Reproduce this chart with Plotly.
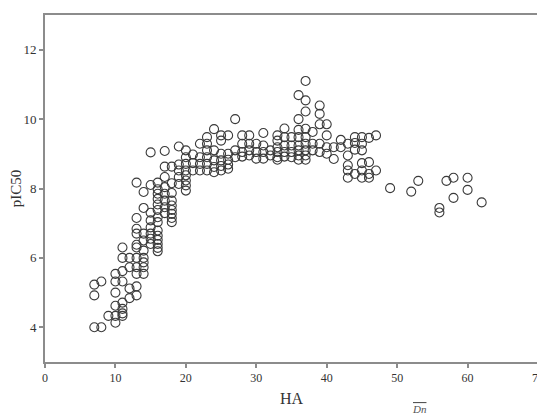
import plotly.graph_objects as go

# Heavy-atom count (HA) and pIC50 values
ha = [
    7, 7, 7,
    8, 8,
    9,
    10, 10, 10, 10, 10, 10,
    11, 11, 11, 11, 11, 11, 11, 11,
    12, 12, 12, 12,
    13, 13, 13, 13, 13, 13, 13, 13, 13, 13, 13,
    14, 14, 14, 14, 14, 14, 14, 14, 14,
    15, 15, 15, 15, 15, 15, 15, 15,
    16, 16, 16, 16, 16, 16, 16, 16, 16, 16, 16, 16, 16, 16,
    17, 17, 17, 17, 17, 17, 17, 17,
    18, 18, 18, 18, 18, 18, 18, 18, 18,
    19, 19, 19, 19, 19,
    20, 20, 20, 20, 20, 20, 20, 20,
    21, 21, 21,
    22, 22, 22, 22,
    23, 23, 23, 23, 23, 23,
    24, 24, 24, 24, 24,
    25, 25, 25, 25, 25, 25,
    26, 26, 26, 26, 26,
    27, 27, 27,
    28, 28, 28, 28,
    29, 29, 29, 29,
    30, 30, 30,
    31, 31, 31, 31,
    32, 32,
    33, 33, 33, 33, 33, 33,
    34, 34, 34, 34, 34,
    35, 35, 35, 35,
    36, 36, 36, 36, 36, 36, 36, 36,
    37, 37, 37, 37, 37, 37, 37, 37, 37,
    38, 38, 38,
    39, 39, 39, 39, 39,
    40, 40, 40, 40,
    41, 41,
    42, 42,
    43, 43, 43, 43, 43,
    44, 44, 44, 44,
    45, 45, 45, 45, 45, 45,
    46, 46, 46, 46,
    47, 47,
    49, 52, 53, 56, 56, 57, 58, 58, 60, 60, 62,
]
pic50 = [
    5.23, 4.92, 4.00,
    5.32, 4.00,
    4.33,
    5.54, 5.32, 5.00, 4.62, 4.33, 4.13,
    6.30, 6.00, 5.62, 5.32, 4.71, 4.53, 4.40, 4.33,
    6.00, 5.73, 5.12, 4.84,
    8.17, 7.15, 6.84, 6.70, 6.38, 6.30, 6.00, 5.73, 5.54, 5.18, 4.92,
    7.90, 7.44, 6.70, 6.50, 6.21, 6.00, 5.87, 5.73, 5.54,
    9.04, 8.10, 7.30, 7.08, 6.88, 6.70, 6.55, 6.40,
    8.17, 7.98, 7.85, 7.70, 7.54, 7.38, 7.17, 7.03, 6.79, 6.64, 6.52, 6.40, 6.29, 6.19,
    9.08, 8.63, 8.33, 8.04, 7.85, 7.65, 7.46, 7.29,
    8.63, 8.15, 7.87, 7.65, 7.51, 7.38, 7.27, 7.15, 7.03,
    9.21, 8.69, 8.52, 8.33, 8.13,
    9.10, 8.90, 8.71, 8.52, 8.38, 8.23, 8.09, 7.94,
    8.98, 8.73, 8.52,
    9.29, 8.90, 8.71, 8.52,
    9.48, 9.29, 9.10, 8.90, 8.71, 8.52,
    9.71, 9.10, 8.81, 8.62, 8.47,
    9.53, 9.38, 9.00, 8.81, 8.65, 8.52,
    9.53, 9.00, 8.83, 8.69, 8.57,
    10.00, 9.10, 8.90,
    9.53, 9.29, 9.05, 8.92,
    9.53, 9.29, 9.10, 8.95,
    9.29, 9.05, 8.86,
    9.60, 9.24, 9.05, 8.86,
    9.10, 8.95,
    9.53, 9.38, 9.19, 9.05, 8.90, 8.83,
    9.73, 9.48, 9.24, 9.05, 8.92,
    9.48, 9.24, 9.05, 8.90,
    10.69, 10.00, 9.69, 9.48, 9.24, 9.10, 8.95, 8.83,
    11.10, 10.54, 10.22, 9.72, 9.48, 9.29, 9.10, 8.95, 8.83,
    9.63, 9.29, 9.10,
    10.39, 10.15, 9.85, 9.29, 9.05,
    9.85, 9.53, 9.19, 9.00,
    9.19, 8.85,
    9.40, 9.19,
    9.29, 8.95, 8.67, 8.52, 8.31,
    9.48, 9.31, 9.12, 8.42,
    9.48, 9.29, 9.10, 8.73, 8.52, 8.31,
    9.46, 8.76, 8.42, 8.31,
    9.53, 8.52,
    8.01, 7.91, 8.22, 7.44, 7.31, 8.22, 8.31, 7.73, 8.31, 7.96, 7.60,
]

x_ticks = [0, 10, 20, 30, 40, 50, 60, 70]
y_ticks = [4, 6, 8, 10, 12]

serif = "Liberation Serif"
axis_col = "#8c8c8c"
text_col = "#333333"

fig = go.Figure(
    go.Scatter(
        x=ha, y=pic50, mode="markers",
        marker=dict(symbol="circle-open", size=9, color="#3a3a3a",
                    line=dict(width=1.1, color="#3a3a3a")),
        cliponaxis=False, showlegend=False,
    )
)

# the page body adds an 8px offset, so the figure is sized to fill the rest
fig.update_layout(
    width=537, height=409,
    margin=dict(l=37, r=7, t=7, b=55, autoexpand=False),
    plot_bgcolor="white", paper_bgcolor="white",
    font=dict(family=serif, size=13, color=text_col),
    annotations=[dict(
        text="<i><span style='text-decoration:overline'>Dn</span></i>",
        xref="paper", yref="paper", x=0.76, y=-0.158,
        xanchor="center", yanchor="bottom", showarrow=False,
        font=dict(family=serif, size=11, color="#555555"),
    )],
)
fig.update_xaxes(
    range=[0, 70], tickvals=x_ticks, ticks="outside", ticklen=4, tickwidth=1.5,
    tickcolor=axis_col, showline=True, linecolor=axis_col, linewidth=2,
    mirror=True, showgrid=False, zeroline=False, automargin=False,
    tickfont=dict(family=serif, size=12, color=text_col),
    title=dict(text="HA", font=dict(family=serif, size=16, color=text_col), standoff=8),
)
fig.update_yaxes(
    range=[3, 13], tickvals=y_ticks, ticks="outside", ticklen=4, tickwidth=1.5,
    tickcolor=axis_col, showline=True, linecolor=axis_col, linewidth=2,
    mirror=True, showgrid=False, zeroline=False, automargin=False,
    tickfont=dict(family=serif, size=13, color=text_col),
    title=dict(text="pIC50", font=dict(family=serif, size=15, color=text_col), standoff=3),
)

fig.write_html("out.html")
